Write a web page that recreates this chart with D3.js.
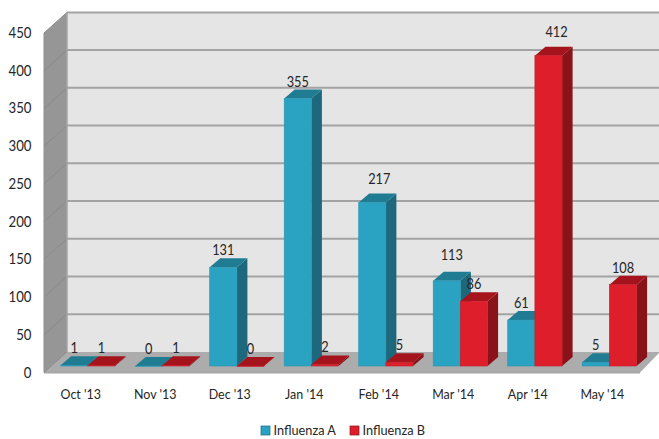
<!DOCTYPE html>
<html><head><meta charset="utf-8">
<script src="https://cdn.jsdelivr.net/npm/d3@7"></script>
<style>html,body{margin:0;padding:0;background:#fff}svg{display:block}text{font-family:Lato,"Open Sans",sans-serif;fill:#262626}</style>
</head><body><svg id="c" width="659" height="439"></svg>
<script>
const categories = ["Oct '13","Nov '13","Dec '13","Jan '14","Feb '14","Mar '14","Apr '14","May '14"];
const influenzaA = [1,0,131,355,217,113,61,5];
const influenzaB = [1,1,0,2,5,86,412,108];
const yTicks = [0,50,100,150,200,250,300,350,400,450];

const svg = d3.select("#c");
const x = d3.scaleBand().domain(categories).range([44,640]);
const yFront = d3.scaleLinear().domain([0,450]).range([372.5,33]);
const wallDx = 23, wallDy = -20.6;
const barDx = 10.5, barDy = -9, barBase = 366, barW = 27.2;
const yBar = d3.scaleLinear().domain([0,450]).range([barBase,barBase-339]);
const poly = pts => pts.map(p=>p.join(",")).join(" ");
const y0 = yFront(0), yT = yFront(450);
// narrow text: Lato squeezed horizontally to match the reference's tighter face
function label(text,px,py,size,anchor,sx){
  return svg.append("text").attr("transform",`translate(${px},${py}) scale(${sx},1)`)
    .attr("text-anchor",anchor).attr("font-size",size).text(text);
}

// walls
svg.append("polygon").attr("points",poly([[44+wallDx,yT+wallDy],[659,yT+wallDy],[659,y0+wallDy],[44+wallDx,y0+wallDy]])).attr("fill","#e5e5e5");
svg.append("polygon").attr("points",poly([[44,yT],[44+wallDx,yT+wallDy],[44+wallDx,y0+wallDy],[44,y0]])).attr("fill","#969696");
svg.append("polygon").attr("points",poly([[44,y0],[44+wallDx,y0+wallDy],[659,y0+wallDy],[659,y0+wallDy+1],[640,y0],])).attr("fill","#acacac");
svg.append("line").attr("x1",44).attr("x2",640).attr("y1",y0).attr("y2",y0).attr("stroke","#a6a6a6").attr("stroke-width",2);

// grid
yTicks.forEach(t=>{
  const yy=yFront(t);
  if(t>0) svg.append("line").attr("x1",44+wallDx).attr("x2",659).attr("y1",yy+wallDy).attr("y2",yy+wallDy).attr("stroke","#a3a3a3").attr("stroke-width",2);
  svg.append("line").attr("x1",44).attr("x2",44+wallDx).attr("y1",yy).attr("y2",yy+wallDy).attr("stroke","#8a8a8a").attr("stroke-width",1);
});
svg.append("line").attr("x1",44+wallDx).attr("x2",44+wallDx).attr("y1",yT+wallDy).attr("y2",y0+wallDy).attr("stroke","#a3a3a3").attr("stroke-width",1.5);
svg.append("line").attr("x1",44).attr("x2",44).attr("y1",yT).attr("y2",y0).attr("stroke","#8f8f8f").attr("stroke-width",1);

// axis labels
yTicks.forEach(d=>label(d,31.5,yFront(d)+5,15,"end",0.88));
categories.forEach(d=>label(d,x(d)+x.bandwidth()/2-0.5,399,14,"middle",0.89));

// bars
const barOffset = 16.7;
const palettes = [
  {front:"#2aa3c3",side:"#1d687c",top:"#1f7c93",edge:"#2a93b0"},
  {front:"#de1f2b",side:"#8a1319",top:"#a5141c",edge:"#c41d28"}
];
function bar3d(cat,val,s){
  const p=palettes[s], l=x(cat)+barOffset+s*barW, r=l+barW, t=yBar(val), b=barBase;
  const g=svg.append("g");
  g.append("polygon").attr("points",poly([[r,t],[r+barDx,t+barDy],[r+barDx,b+barDy],[r,b]])).attr("fill",p.side);
  g.append("polygon").attr("points",poly([[l,t],[l+barDx,t+barDy],[r+barDx,t+barDy],[r,t]])).attr("fill",p.top);
  g.append("rect").attr("x",l).attr("y",t).attr("width",barW).attr("height",Math.max(b-t,0.5)).attr("fill",p.front).attr("stroke",p.edge).attr("stroke-width",0.6);
}
categories.forEach((c,i)=>{ bar3d(c,influenzaA[i],0); bar3d(c,influenzaB[i],1); });

// value labels
const labelNudges = {"4-0":[7,-7],"5-0":[5,-9],"6-1":[8,-7]};
[influenzaA,influenzaB].forEach((vals,s)=>{
  vals.forEach((v,i)=>{
    const n=labelNudges[i+"-"+s]||[0,0];
    label(v,x(categories[i])+barOffset+s*barW+barW/2+n[0],yBar(v)-12+n[1],14.5,"middle",0.88);
  });
});

// legend
const legend=[["Influenza A",261,0],["Influenza B",350,1]];
legend.forEach(([name,lx,s])=>{
  svg.append("rect").attr("x",lx).attr("y",426).attr("width",9).attr("height",9).attr("fill",palettes[s].front).attr("stroke",palettes[s].side).attr("stroke-width",0.7);
  label(name,lx+12.5,435,14,"start",0.91);
});
</script></body></html>
